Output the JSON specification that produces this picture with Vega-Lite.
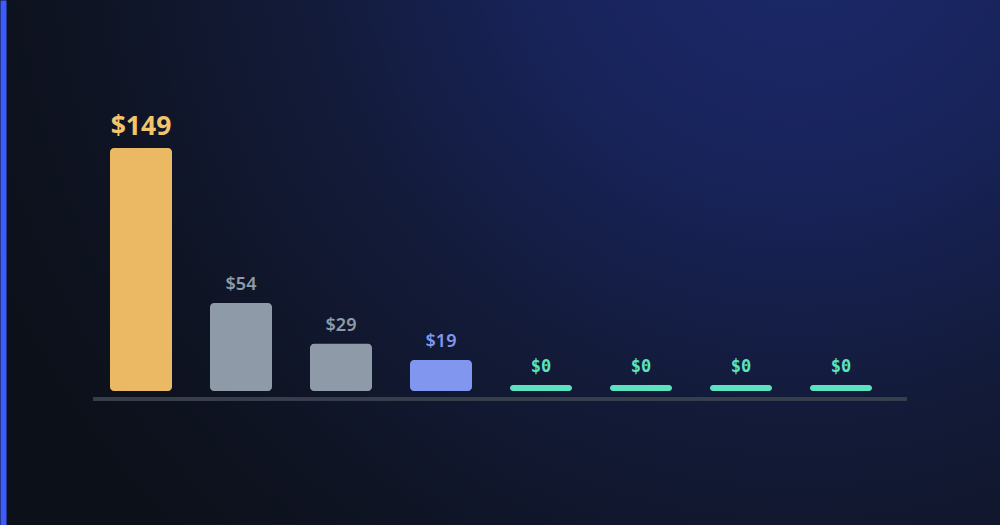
{
  "$schema": "https://vega.github.io/schema/vega-lite/v6.json",
  "width": 1000,
  "height": 525,
  "padding": 0,
  "autosize": {"type": "none"},
  "background": "#0c1018",
  "config": {"view": {"stroke": null}},
  "view": {
    "fill": {
      "gradient": "radial",
      "x1": 0.8, "y1": 0.15, "r1": 0,
      "x2": 0.8, "y2": 0.15, "r2": 0.9,
      "stops": [
        {"offset": 0, "color": "#1c2a6c"},
        {"offset": 0.3, "color": "#18235a"},
        {"offset": 0.55, "color": "#131b3a"},
        {"offset": 0.8, "color": "#0f1424"},
        {"offset": 1, "color": "#0c1018"}
      ]
    }
  },
  "data": {
    "values": [
      {"rank": 1, "price": 149},
      {"rank": 2, "price": 54},
      {"rank": 3, "price": 29},
      {"rank": 4, "price": 19},
      {"rank": 5, "price": 0},
      {"rank": 6, "price": 0},
      {"rank": 7, "price": 0},
      {"rank": 8, "price": 0}
    ]
  },
  "encoding": {
    "x": {
      "field": "rank",
      "type": "ordinal",
      "axis": null,
      "scale": {"range": [110, 872], "paddingInner": 0.38, "paddingOuter": 0}
    },
    "y": {
      "field": "price",
      "type": "quantitative",
      "scale": {"domain": [-82.16, 239.74], "nice": false, "zero": false},
      "axis": {
        "title": null,
        "labels": false,
        "ticks": false,
        "domain": true,
        "domainColor": "#3d5cff",
        "domainWidth": 6,
        "offset": -3,
        "grid": false
      }
    },
    "color": {
      "field": "rank",
      "type": "ordinal",
      "legend": null,
      "scale": {
        "domain": [1, 2, 3, 4, 5, 6, 7, 8],
        "range": ["#ebb964", "#8e9aa7", "#8e9aa7", "#8196ee", "#5be3c0", "#5be3c0", "#5be3c0", "#5be3c0"]
      }
    }
  },
  "layer": [
    {
      "mark": {"type": "rule", "color": "#373f4c", "strokeWidth": 3, "yOffset": 8},
      "encoding": {
        "x": {"datum": 1, "bandPosition": -0.274},
        "x2": {"datum": 8, "bandPosition": 1.565},
        "y": {"datum": 0, "type": "quantitative"},
        "color": {"value": "#373f4c"}
      }
    },
    {
      "transform": [{"filter": "datum.price > 0"}],
      "mark": {"type": "bar", "cornerRadius": 4},
      "encoding": {
        "y2": {"datum": 0}
      }
    },
    {
      "transform": [{"filter": "datum.price == 0"}],
      "mark": {"type": "tick", "thickness": 6, "size": 62, "cornerRadius": 3, "yOffset": -3, "opacity": 1}
    },
    {
      "transform": [{"filter": "datum.rank == 1"}],
      "mark": {"type": "text", "font": "Noto Sans", "fontWeight": "bold", "fontSize": 26.5, "dy": -13, "baseline": "alphabetic", "align": "center"},
      "encoding": {
        "text": {"field": "price", "type": "quantitative", "format": "$d"},
        "color": {"value": "#f2c46c"}
      }
    },
    {
      "transform": [{"filter": "datum.rank >= 2 && datum.rank <= 4"}],
      "mark": {"type": "text", "font": "Noto Sans", "fontWeight": 600, "fontSize": 18, "dy": -13, "baseline": "alphabetic", "align": "center"},
      "encoding": {
        "text": {"field": "price", "type": "quantitative", "format": "$d"}
      }
    },
    {
      "transform": [{"filter": "datum.price == 0"}],
      "mark": {"type": "text", "font": "DejaVu Sans Mono", "fontWeight": "bold", "fontSize": 17, "dy": -19, "baseline": "alphabetic", "align": "center"},
      "encoding": {
        "text": {"field": "price", "type": "quantitative", "format": "$d"}
      }
    }
  ]
}
